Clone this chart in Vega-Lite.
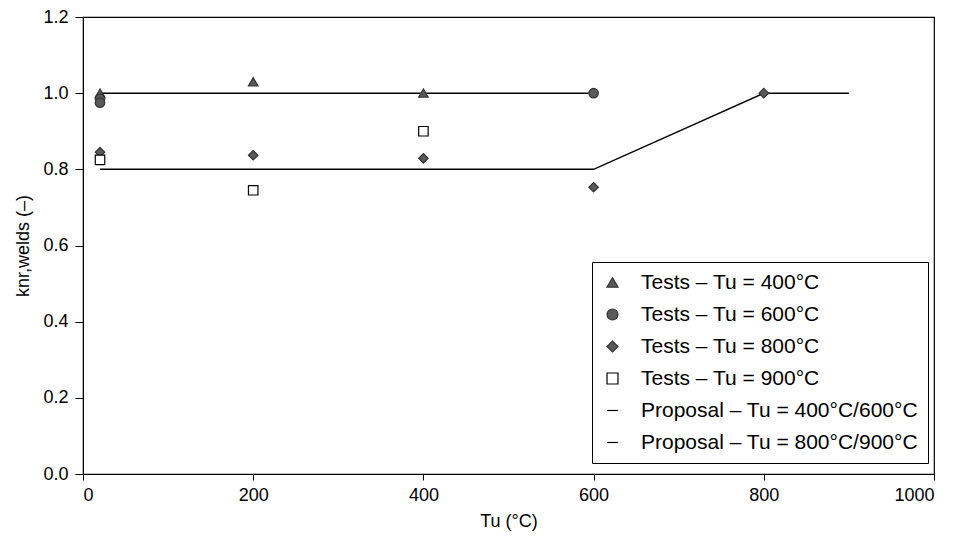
{
  "$schema": "https://vega.github.io/schema/vega-lite/v6.json",
  "width": 851,
  "height": 457,
  "autosize": {"type": "none"},
  "padding": {"left": 83, "top": 17, "right": 26, "bottom": 69},
  "background": "white",
  "config": {
    "font": "Liberation Sans",
    "view": {"stroke": "#000", "strokeWidth": 1.2}
  },
  "data": {"values": [
    {"series": "Tests – Tu = 400°C", "kind": "test", "x": 20, "y": 1.0},
    {"series": "Tests – Tu = 400°C", "kind": "test", "x": 200, "y": 1.03},
    {"series": "Tests – Tu = 400°C", "kind": "test", "x": 400, "y": 1.0},
    {"series": "Tests – Tu = 600°C", "kind": "test", "x": 20, "y": 0.985},
    {"series": "Tests – Tu = 600°C", "kind": "test", "x": 20, "y": 0.975},
    {"series": "Tests – Tu = 600°C", "kind": "test", "x": 600, "y": 1.0},
    {"series": "Tests – Tu = 800°C", "kind": "test", "x": 20, "y": 0.845},
    {"series": "Tests – Tu = 800°C", "kind": "test", "x": 200, "y": 0.837},
    {"series": "Tests – Tu = 800°C", "kind": "test", "x": 400, "y": 0.829},
    {"series": "Tests – Tu = 800°C", "kind": "test", "x": 600, "y": 0.753},
    {"series": "Tests – Tu = 800°C", "kind": "test", "x": 800, "y": 1.0},
    {"series": "Tests – Tu = 900°C", "kind": "test", "x": 20, "y": 0.825},
    {"series": "Tests – Tu = 900°C", "kind": "test", "x": 200, "y": 0.745},
    {"series": "Tests – Tu = 900°C", "kind": "test", "x": 400, "y": 0.90},
    {"series": "Proposal – Tu = 400°C/600°C", "kind": "proposal", "x": 20, "y": 1.0},
    {"series": "Proposal – Tu = 400°C/600°C", "kind": "proposal", "x": 600, "y": 1.0},
    {"series": "Proposal – Tu = 800°C/900°C", "kind": "proposal", "x": 20, "y": 0.8},
    {"series": "Proposal – Tu = 800°C/900°C", "kind": "proposal", "x": 600, "y": 0.8},
    {"series": "Proposal – Tu = 800°C/900°C", "kind": "proposal", "x": 800, "y": 1.0},
    {"series": "Proposal – Tu = 800°C/900°C", "kind": "proposal", "x": 900, "y": 1.0}
  ]},
  "encoding": {
    "x": {"field": "x", "type": "quantitative", "title": "Tu (°C)", "scale": {"domain": [0, 1000], "nice": false},
      "axis": {"values": [0, 200, 400, 600, 800, 1000], "format": "d", "grid": false, "domainColor": "#000", "tickColor": "#000", "labelColor": "#000", "titleColor": "#000", "labelFontSize": 18, "titleFontSize": 18, "titleFontWeight": "normal", "tickSize": 6, "labelPadding": 6, "titlePadding": 8}},
    "y": {"field": "y", "type": "quantitative", "title": "knr,welds (–)", "scale": {"domain": [0, 1.2], "nice": false, "zero": false},
      "axis": {"values": [0, 0.2, 0.4, 0.6, 0.8, 1.0, 1.2], "format": ".1f", "grid": false, "domainColor": "#000", "tickColor": "#000", "labelColor": "#000", "titleColor": "#000", "labelFontSize": 18, "titleFontSize": 18, "titleFontWeight": "normal", "tickSize": 8, "labelPadding": 7, "titlePadding": 10}}
  },
  "layer": [
    {
      "transform": [{"filter": "datum.kind === 'proposal'"}],
      "mark": {"type": "line", "color": "#000", "strokeWidth": 1.5},
      "encoding": {"detail": {"field": "series"}, "order": {"field": "x", "type": "quantitative"}}
    },
    {
      "transform": [{"filter": "datum.kind === 'test'"}],
      "mark": {"type": "point", "size": 90, "strokeWidth": 1.2, "opacity": 1},
      "encoding": {
        "shape": {"field": "series", "type": "nominal", "title": null,
          "scale": {"domain": ["Tests – Tu = 400°C", "Tests – Tu = 600°C", "Tests – Tu = 800°C", "Tests – Tu = 900°C", "Proposal – Tu = 400°C/600°C", "Proposal – Tu = 800°C/900°C"],
                    "range": ["triangle-up", "circle", "diamond", "square", "stroke", "stroke"]},
          "legend": {"orient": "none", "legendX": 509, "legendY": 245, "strokeColor": "#000", "fillColor": "#fff", "padding": 10, "labelFontSize": 21, "labelColor": "#000", "rowPadding": 10, "symbolSize": 120, "symbolStrokeWidth": 1.2, "labelLimit": 400, "labelOffset": 18}
        },
        "fill": {"field": "series", "type": "nominal", "title": null,
          "scale": {"domain": ["Tests – Tu = 400°C", "Tests – Tu = 600°C", "Tests – Tu = 800°C", "Tests – Tu = 900°C", "Proposal – Tu = 400°C/600°C", "Proposal – Tu = 800°C/900°C"],
                    "range": ["#5a5a5a", "#5a5a5a", "#5a5a5a", "#ffffff", "#000000", "#000000"]}},
        "stroke": {"field": "series", "type": "nominal", "title": null,
          "scale": {"domain": ["Tests – Tu = 400°C", "Tests – Tu = 600°C", "Tests – Tu = 800°C", "Tests – Tu = 900°C", "Proposal – Tu = 400°C/600°C", "Proposal – Tu = 800°C/900°C"],
                    "range": ["#333333", "#333333", "#333333", "#000000", "#000000", "#000000"]}}
      }
    }
  ]
}
